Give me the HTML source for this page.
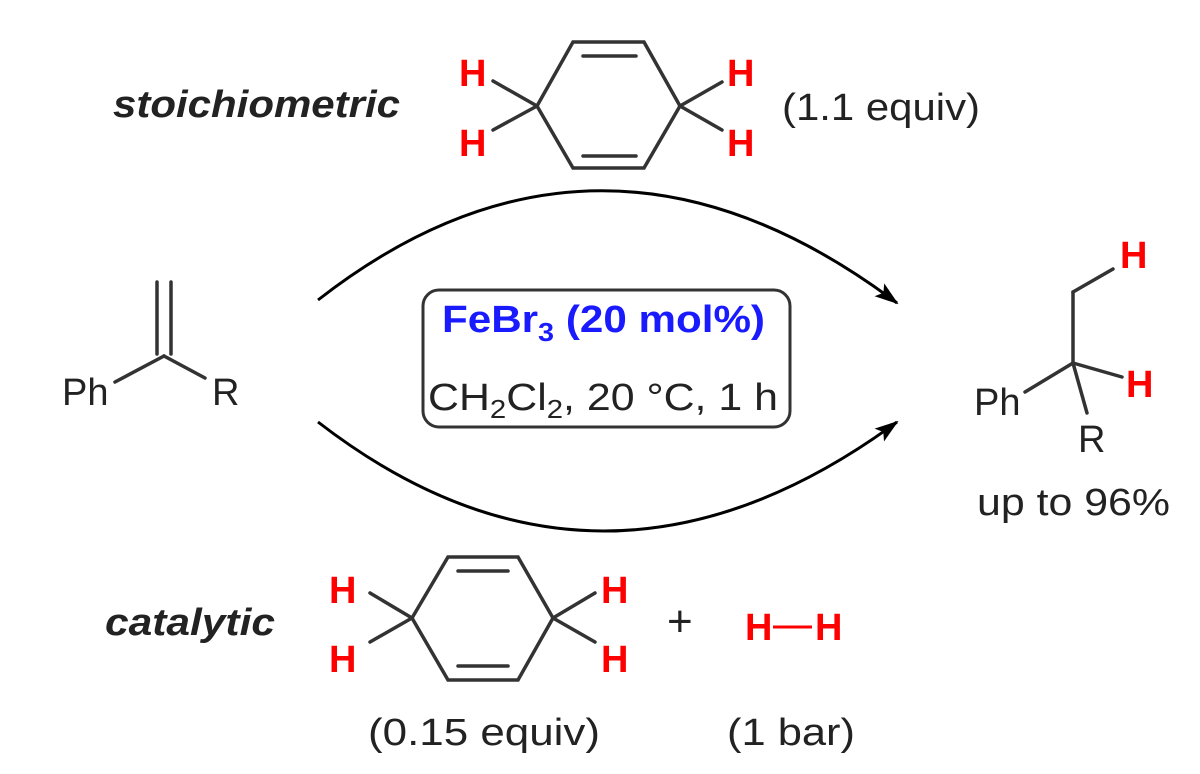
<!DOCTYPE html>
<html><head><style>html,body{margin:0;padding:0;background:#fff}svg{display:block}</style></head><body>
<svg width="1200" height="774" viewBox="0 0 1200 774" xmlns="http://www.w3.org/2000/svg" font-family="Liberation Sans, sans-serif">
<defs><marker id="ah" markerWidth="24" markerHeight="18" refX="22" refY="9" orient="auto" markerUnits="userSpaceOnUse" viewBox="0 0 24 18"><path d="M0,1 L24,9 L0,17 L5,9 z" fill="#000"/></marker></defs>
<g stroke="#333" stroke-width="3.5" fill="none" stroke-linecap="round">
<polygon points="537,106 573,42 644,42 680,106 644,168 573,168"/>
<line x1="583" y1="56" x2="636" y2="56"/><line x1="583" y1="156" x2="636" y2="156"/>
<line x1="537" y1="106" x2="493" y2="81"/><line x1="537" y1="106" x2="493" y2="130"/>
<line x1="680" y1="106" x2="722" y2="82"/><line x1="680" y1="106" x2="722" y2="130"/>
<polygon points="412,618 448,557 518,557 553,618 518,680 448,680"/>
<line x1="458" y1="571" x2="508" y2="571"/><line x1="458" y1="666" x2="508" y2="666"/>
<line x1="412" y1="618" x2="370" y2="593"/><line x1="412" y1="618" x2="370" y2="642"/>
<line x1="553" y1="618" x2="595" y2="593"/><line x1="553" y1="618" x2="595" y2="642"/>
<line x1="157" y1="282" x2="157" y2="354"/><line x1="171" y1="282" x2="171" y2="354"/>
<line x1="164" y1="356" x2="115" y2="382"/><line x1="164" y1="356" x2="205" y2="378"/>
<line x1="1073" y1="363" x2="1073" y2="292"/><line x1="1073" y1="292" x2="1113" y2="269"/>
<line x1="1073" y1="363" x2="1122" y2="377"/><line x1="1073" y1="363" x2="1025" y2="392"/>
<line x1="1073" y1="363" x2="1087" y2="413"/>
</g>
<g stroke="#000" stroke-width="3" fill="none">
<path d="M318,300 Q600,80 897,303" marker-end="url(#ah)"/>
<path d="M318,422 Q600,640 897,422" marker-end="url(#ah)"/>
</g>
<rect x="423" y="290" width="367" height="137" rx="16" fill="#fff" stroke="#333" stroke-width="3"/>
<g font-size="38" fill="#222">
<text x="442" y="332" fill="#1a1aff" font-weight="bold" textLength="323" lengthAdjust="spacingAndGlyphs">FeBr<tspan font-size="26" dy="9">3</tspan><tspan dy="-9"> (20 mol%)</tspan></text>
<text x="428" y="410" textLength="350" lengthAdjust="spacingAndGlyphs">CH<tspan font-size="26" dy="8">2</tspan><tspan dy="-8">Cl</tspan><tspan font-size="26" dy="8">2</tspan><tspan dy="-8">, 20 °C, 1 h</tspan></text>
<text x="113" y="117" font-weight="bold" font-style="italic" textLength="287" lengthAdjust="spacingAndGlyphs">stoichiometric</text>
<text x="782" y="120" textLength="198" lengthAdjust="spacingAndGlyphs">(1.1 equiv)</text>
<text x="105" y="635" font-weight="bold" font-style="italic" textLength="170" lengthAdjust="spacingAndGlyphs">catalytic</text>
<text x="667" y="636" font-size="44">+</text>
<text x="368" y="745" textLength="232" lengthAdjust="spacingAndGlyphs">(0.15 equiv)</text>
<text x="727" y="745" textLength="128" lengthAdjust="spacingAndGlyphs">(1 bar)</text>
<text x="977" y="515" textLength="193" lengthAdjust="spacingAndGlyphs">up to 96%</text>
<text x="62" y="405" font-size="38">Ph</text><text x="212" y="405">R</text>
<text x="974" y="415">Ph</text><text x="1078" y="452">R</text>
</g>
<g font-size="38" fill="#ff0000" font-weight="bold">
<text x="459" y="86">H</text><text x="459" y="156">H</text>
<text x="727" y="86">H</text><text x="727" y="156">H</text>
<text x="329" y="603">H</text><text x="329" y="672">H</text>
<text x="601" y="603">H</text><text x="601" y="672">H</text>
<text x="745" y="640">H</text><text x="815" y="640">H</text>
<text x="1120" y="268">H</text><text x="1126" y="397">H</text>
</g>
<line x1="773" y1="627" x2="812" y2="627" stroke="#ff0000" stroke-width="3"/>
</svg>
</body></html>
